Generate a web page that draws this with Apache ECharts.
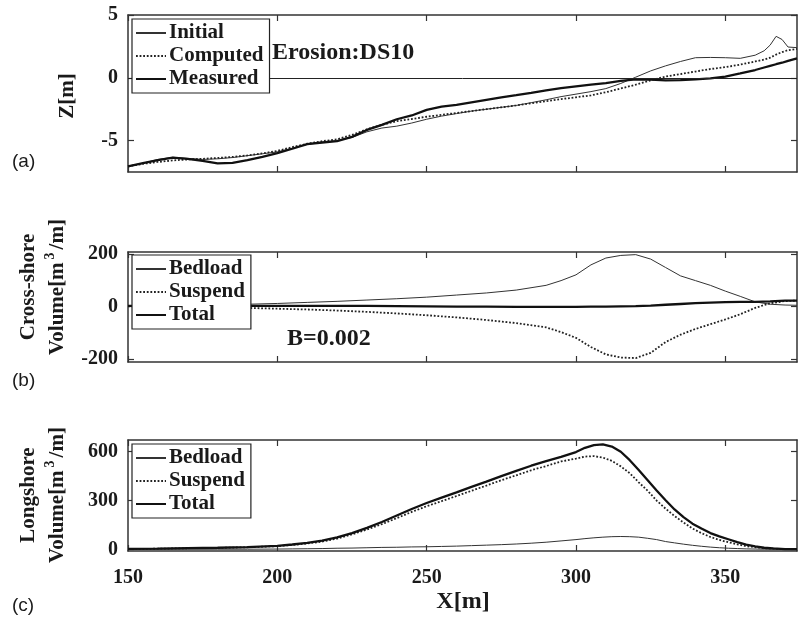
<!DOCTYPE html>
<html>
<head>
<meta charset="utf-8">
<script src="https://cdn.jsdelivr.net/npm/echarts@6/dist/echarts.min.js"></script>
<style>html,body{margin:0;padding:0;background:#fff;}#chart{width:807px;height:624px;}</style>
</head>
<body>
<div id="chart"></div>
<script>
// ---------- DATA ----------
const xTicks = [150, 200, 250, 300, 350];
const yTicksA = [-5, 0, 5];
const yTicksB = [-200, 0, 200];
const yTicksC = [0, 300, 600];

// Panel (a): profiles Z[m]
const xA = [150,155,160,165,170,175,180,185,190,195,200,205,210,215,220,225,230,235,240,245,250,255,260,265,270,275,280,285,290,295,300,305,310,315,320,325,330,335,340,345,350,355,360,363,365,367,369,371,374];
const initialZ = [-7.05,-6.8,-6.5,-6.33,-6.42,-6.5,-6.45,-6.35,-6.2,-6.05,-5.9,-5.6,-5.3,-5.15,-5.0,-4.75,-4.3,-4.0,-3.85,-3.6,-3.3,-3.05,-2.85,-2.65,-2.5,-2.35,-2.2,-1.98,-1.75,-1.5,-1.3,-1.1,-0.86,-0.45,0.05,0.55,0.95,1.3,1.6,1.62,1.6,1.55,1.8,2.15,2.6,3.3,3.05,2.45,2.4];
const computedZ = [-7.05,-6.85,-6.7,-6.58,-6.5,-6.45,-6.38,-6.3,-6.18,-6.02,-5.82,-5.52,-5.25,-5.05,-4.9,-4.55,-4.1,-3.75,-3.45,-3.28,-3.1,-2.95,-2.8,-2.65,-2.5,-2.35,-2.2,-2.02,-1.86,-1.7,-1.55,-1.4,-1.15,-0.85,-0.55,-0.2,0.1,0.3,0.5,0.7,0.85,1.05,1.3,1.45,1.6,1.85,2.05,2.2,2.3];
const measuredZ = [-7.05,-6.8,-6.55,-6.35,-6.45,-6.62,-6.82,-6.78,-6.55,-6.3,-6.0,-5.65,-5.28,-5.15,-5.05,-4.7,-4.15,-3.75,-3.3,-3.0,-2.55,-2.3,-2.15,-1.95,-1.75,-1.55,-1.38,-1.2,-1.0,-0.82,-0.68,-0.55,-0.42,-0.25,-0.12,-0.15,-0.2,-0.18,-0.12,-0.04,0.1,0.35,0.62,0.82,0.95,1.08,1.2,1.35,1.55];

// Panel (b): cross-shore transport volume
const xB = [150,160,170,180,190,200,210,220,230,240,250,260,270,280,290,295,300,305,310,315,320,325,330,335,340,345,350,355,360,365,370,374];
const crossBedload = [2,3,4,6,8,11,15,19,24,29,35,43,51,62,80,98,120,158,184,194,197,180,148,116,98,80,58,38,17,8,5,4];
const crossSuspend = [0,-1,-2,-4,-6,-9,-12,-16,-21,-27,-34,-42,-52,-64,-80,-98,-120,-155,-183,-195,-197,-177,-136,-108,-86,-68,-50,-30,-6,12,20,22];
const crossTotal = [2,2,2,2,2,2,2,2,2,1,0,-1,-1,-2,-2,-2,-2,-1,-1,0,1,3,6,9,12,14,16,17,17,19,22,22];

// Panel (c): longshore transport volume
const xC = [150,160,170,180,190,200,205,210,215,220,225,230,235,240,245,250,255,260,265,270,275,280,285,290,295,300,303,306,309,312,315,318,321,324,327,330,333,336,339,342,345,348,351,354,357,360,363,366,370,374];
const longBedload = [1,1,1,1,1,2,3,4,5,7,8,10,12,13,15,16,18,20,23,26,29,33,38,44,52,60,66,71,75,78,79,78,75,68,60,48,40,32,25,19,14,10,7,5,3,2,1,1,0,0];
const longSuspend = [2,4,7,9,13,20,27,36,48,66,92,122,155,192,230,265,296,328,360,392,425,455,486,512,540,558,570,573,564,544,510,468,412,360,300,250,205,165,128,100,76,58,44,31,20,13,8,4,2,1];
const longTotal = [3,5,8,10,14,22,30,40,54,74,100,132,168,208,248,285,318,350,384,416,450,482,514,542,568,598,624,640,645,632,600,548,488,425,362,302,245,198,158,128,100,80,62,44,29,18,10,6,2,1];

// ---------- CHART ----------
const FONT = "'Liberation Serif', 'Times New Roman', serif";
const INK = '#1a1a1a';
const FRAME = '#333';
const pairs = (xs, ys) => xs.map((x, i) => [x, ys[i]]);

const grids = [
  {left: 128, top: 15, width: 669, height: 157},
  {left: 128, top: 252, width: 669, height: 110},
  {left: 128, top: 440, width: 669, height: 111}
];
const yRanges = [[-7.5, 5, yTicksA], [-212, 207, yTicksB], [-10, 672, yTicksC]];

const xAxes = [], yAxes = [];
grids.forEach((g, gi) => {
  ['bottom', 'top'].forEach(pos => {
    xAxes.push({
      type: 'value', gridIndex: gi, position: pos, min: 150, max: 374,
      axisLine: {show: true, onZero: false, lineStyle: {color: FRAME, width: 1.5}},
      axisTick: {show: true, inside: true, length: 6, customValues: xTicks, lineStyle: {color: FRAME, width: 1.2}},
      axisLabel: {show: gi === 2 && pos === 'bottom', customValues: xTicks, margin: 17,
        fontFamily: FONT, fontWeight: 'bold', fontSize: 20, color: INK},
      splitLine: {show: false}
    });
  });
  const [mn, mx, ticks] = yRanges[gi];
  ['left', 'right'].forEach(pos => {
    yAxes.push({
      type: 'value', gridIndex: gi, position: pos, min: mn, max: mx,
      axisLine: {show: true, onZero: false, lineStyle: {color: FRAME, width: 1.5}},
      axisTick: {show: true, inside: true, length: 6, customValues: ticks, lineStyle: {color: FRAME, width: 1.2}},
      axisLabel: {show: pos === 'left', customValues: ticks, margin: 10,
        fontFamily: FONT, fontWeight: 'bold', fontSize: 20, color: INK},
      splitLine: {show: false}
    });
  });
});

const thin = {color: '#333', width: 1, type: 'solid'};
const dotted = {color: '#222', width: 1.8, type: [1.8, 1.8]};
const thick = {color: '#111', width: 2.3, type: 'solid'};
function mk(name, gi, xs, ys, ls, extra) {
  return Object.assign({
    name, type: 'line', xAxisIndex: gi * 2, yAxisIndex: gi * 2,
    data: pairs(xs, ys), showSymbol: false, symbol: 'none',
    lineStyle: ls, itemStyle: {color: ls.color}, z: 3
  }, extra || {});
}

const series = [
  mk('Initial', 0, xA, initialZ, thin, {
    markLine: {silent: true, symbol: 'none', label: {show: false},
      lineStyle: {color: '#222', width: 1, type: 'solid'}, data: [{yAxis: 0}]}
  }),
  mk('Computed', 0, xA, computedZ, dotted),
  mk('Measured', 0, xA, measuredZ, thick),
  mk('Bedload', 1, xB, crossBedload, thin),
  mk('Suspend', 1, xB, crossSuspend, dotted),
  mk('Total', 1, xB, crossTotal, thick),
  mk('Bedload', 2, xC, longBedload, thin),
  mk('Suspend', 2, xC, longSuspend, dotted),
  mk('Total', 2, xC, longTotal, thick)
];

function legend(top, names) {
  return {
    orient: 'vertical', left: 132, top: top, data: names,
    itemWidth: 30, itemHeight: 12, itemGap: 1,
    padding: [3, 6, 3, 3], borderColor: '#222', borderWidth: 1.2,
    backgroundColor: '#fff', selectedMode: false, z: 10,
    itemStyle: {opacity: 0, borderWidth: 0},
    textStyle: {fontFamily: FONT, fontWeight: 'bold', fontSize: 21, color: INK, lineHeight: 22, padding: [0, 0, 0, -2]}
  };
}

const sansLbl = (txt, x, y) => ({
  type: 'text', left: x, top: y,
  style: {text: txt, fontFamily: "'Liberation Sans', Arial, sans-serif", fontSize: 19, fill: INK}
});
const boldTxt = (txt, x, y, size) => ({
  type: 'text', x: x, y: y,
  style: {text: txt, fontFamily: FONT, fontWeight: 'bold', fontSize: size, fill: INK, align: 'left', verticalAlign: 'middle'}
});
const volRich = {
  a: {fontFamily: FONT, fontWeight: 'bold', fontSize: 21, lineHeight: 29, fill: INK},
  s: {fontFamily: FONT, fontWeight: 'bold', fontSize: 14, lineHeight: 29, fill: INK, verticalAlign: 'top', padding: [0, 3, 0, 3]}
};
const yTitle = (txt, x, y, rich) => ({
  type: 'text', x: x, y: y, rotation: Math.PI / 2,
  style: Object.assign({text: txt, fontFamily: FONT, fontWeight: 'bold', fontSize: 21, fill: INK,
    align: 'center', verticalAlign: 'middle'}, rich ? {rich: rich} : {})
});

const option = {
  animation: false,
  backgroundColor: '#fff',
  grid: grids,
  xAxis: xAxes,
  yAxis: yAxes,
  legend: [legend(19, ['Initial', 'Computed', 'Measured']),
           legend(255, ['Bedload', 'Suspend', 'Total']),
           legend(444, ['Bedload', 'Suspend', 'Total'])],
  series: series,
  graphic: [
    sansLbl('(a)', 12, 152),
    sansLbl('(b)', 12, 371),
    sansLbl('(c)', 12, 596),
    boldTxt('Erosion:DS10', 272, 53, 24),
    boldTxt('B=0.002', 287, 339, 24),
    {type: 'text', x: 463, y: 602, style: {text: 'X[m]', fontFamily: FONT, fontWeight: 'bold', fontSize: 24, fill: INK, align: 'center', verticalAlign: 'middle'}},
    yTitle('Z[m]', 68, 96),
    yTitle('{a|Cross-shore}\n{a|Volume[m}{s|3}{a|/m]}', 43, 287, volRich),
    yTitle('{a|Longshore}\n{a|Volume[m}{s|3}{a|/m]}', 43, 495, volRich)
  ]
};

const chart = echarts.init(document.getElementById('chart'), null, {renderer: 'canvas'});
chart.setOption(option);
</script>
</body>
</html>
